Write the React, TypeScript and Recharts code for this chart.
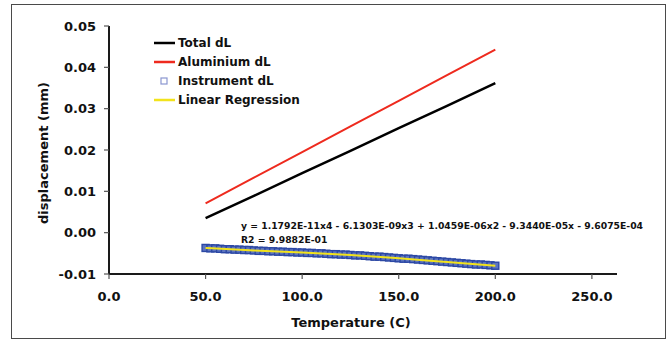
import React from 'react';
import { ComposedChart, Line, XAxis, YAxis } from 'recharts';

const FONT = '"DejaVu Sans", Verdana, sans-serif';

const xTicks = [0, 50, 100, 150, 200, 250];
const yTicks = [-0.01, 0, 0.01, 0.02, 0.03, 0.04, 0.05];

const lineTemps = [50, 75, 100, 125, 150, 175, 200];
const totalDL = [0.0035, 0.0089, 0.0144, 0.0198, 0.0253, 0.0307, 0.0362];
const aluminiumDL = [0.0071, 0.0133, 0.0195, 0.0257, 0.0319, 0.0381, 0.0443];
const regressionDL = [-0.0037, -0.0043, -0.0048, -0.0054, -0.0062, -0.0071, -0.008];

const instrumentTemps = [
  50, 52.5, 55, 57.5, 60, 62.5, 65, 67.5, 70, 72.5, 75, 77.5, 80, 82.5, 85, 87.5,
  90, 92.5, 95, 97.5, 100, 102.5, 105, 107.5, 110, 112.5, 115, 117.5, 120, 122.5,
  125, 127.5, 130, 132.5, 135, 137.5, 140, 142.5, 145, 147.5, 150, 152.5, 155,
  157.5, 160, 162.5, 165, 167.5, 170, 172.5, 175, 177.5, 180, 182.5, 185, 187.5,
  190, 192.5, 195, 197.5, 200,
];
const instrumentDL = [
  -0.0037, -0.0038, -0.0038, -0.0039, -0.004, -0.004, -0.0041, -0.0041, -0.0042,
  -0.0042, -0.0043, -0.0044, -0.0044, -0.0045, -0.0045, -0.0046, -0.0046, -0.0047,
  -0.0047, -0.0048, -0.0048, -0.0049, -0.0049, -0.005, -0.005, -0.0051, -0.0052,
  -0.0052, -0.0053, -0.0053, -0.0054, -0.0055, -0.0055, -0.0056, -0.0057, -0.0058,
  -0.0058, -0.0059, -0.006, -0.0061, -0.0062, -0.0063, -0.0063, -0.0064, -0.0065,
  -0.0066, -0.0067, -0.0068, -0.0069, -0.007, -0.0071, -0.0072, -0.0073, -0.0074,
  -0.0075, -0.0076, -0.0077, -0.0077, -0.0078, -0.0079, -0.008,
];

const equationText =
  'y = 1.1792E-11x4 - 6.1303E-09x3 + 1.0459E-06x2 - 9.3440E-05x - 9.6075E-04';
const r2Text = 'R2 = 9.9882E-01';

const toRows = (xs: number[], ys: number[]) => xs.map((t, i) => ({ t, v: ys[i] }));

const totalData = toRows(lineTemps, totalDL);
const aluminiumData = toRows(lineTemps, aluminiumDL);
const regressionData = toRows(lineTemps, regressionDL);
const instrumentData = toRows(instrumentTemps, instrumentDL);

const legendItems = [
  { name: 'Total dL', color: '#000000', kind: 'line' },
  { name: 'Aluminium dL', color: '#ee2a1e', kind: 'line' },
  { name: 'Instrument dL', color: '#8a96d0', kind: 'square' },
  { name: 'Linear Regression', color: '#f2e31c', kind: 'line' },
];

const SquareMarker = (props: any) => {
  const { cx, cy, index } = props;
  if (cx == null || cy == null) return null;
  return (
    <rect
      key={`sq-${index}`}
      x={cx - 3.5}
      y={cy - 3.5}
      width={7}
      height={7}
      fill="#5c74c0"
      stroke="#2c48a4"
      strokeWidth={1.4}
    />
  );
};

const tickStyle = { fontFamily: FONT, fontWeight: 'bold', fontSize: 13, fill: '#111' };
const CHART_MARGIN = { top: 26, right: 54, left: 0, bottom: 0 };
const chartPos: React.CSSProperties = { position: 'absolute', left: 0, top: 0 };

// axes shared by both layers; the overlay layer hides its ticks and lines
const axes = (visible: boolean) => [
  <XAxis
    key="x"
    type="number"
    dataKey="t"
    domain={[0, 263]}
    ticks={xTicks}
    tickFormatter={(v: number) => v.toFixed(1)}
    allowDataOverflow
    height={67}
    tick={visible ? tickStyle : false}
    tickSize={5}
    tickMargin={13}
    axisLine={visible ? { stroke: '#1a1a1a', strokeWidth: 2 } : false}
    tickLine={visible ? { stroke: '#555', strokeWidth: 1.2 } : false}
  />,
  <YAxis
    key="y"
    type="number"
    dataKey="v"
    domain={[-0.01, 0.05]}
    ticks={yTicks}
    tickFormatter={(v: number) => v.toFixed(2)}
    allowDataOverflow
    width={109}
    tick={visible ? tickStyle : false}
    tickSize={5}
    tickMargin={8}
    axisLine={visible ? { stroke: '#1a1a1a', strokeWidth: 2 } : false}
    tickLine={visible ? { stroke: '#555', strokeWidth: 1.2 } : false}
  />,
];

export default function App() {
  return (
    <div style={{ position: 'absolute', left: 0, top: 0, width: 671, height: 341, background: '#fff' }}>
      <div
        style={{
          position: 'absolute',
          left: 11,
          top: 4,
          width: 653,
          height: 333,
          border: '1.5px solid #4a4a4a',
        }}
      />
      <ComposedChart width={671} height={341} margin={CHART_MARGIN} style={chartPos}>
        {axes(true)}
        <Line
          data={totalData}
          dataKey="v"
          name="Total dL"
          stroke="#000000"
          strokeWidth={2.5}
          dot={false}
          isAnimationActive={false}
        />
        <Line
          data={aluminiumData}
          dataKey="v"
          name="Aluminium dL"
          stroke="#ee2a1e"
          strokeWidth={2}
          dot={false}
          isAnimationActive={false}
        />
        <Line
          data={instrumentData}
          dataKey="v"
          name="Instrument dL"
          stroke="none"
          strokeWidth={0}
          dot={SquareMarker}
          activeDot={false}
          isAnimationActive={false}
        />
      </ComposedChart>
      <ComposedChart width={671} height={341} margin={CHART_MARGIN} style={chartPos}>
        {axes(false)}
        <Line
          data={regressionData}
          dataKey="v"
          name="Linear Regression"
          type="monotone"
          stroke="#f2e31c"
          strokeWidth={2}
          dot={false}
          isAnimationActive={false}
        />
      </ComposedChart>
      <div
        style={{
          position: 'absolute',
          left: 154,
          top: 34,
          fontFamily: FONT,
          fontWeight: 'bold',
          fontSize: 12,
          color: '#111',
        }}
      >
        {legendItems.map((it) => (
          <div key={it.name} style={{ display: 'flex', alignItems: 'center', height: 18.8 }}>
            <svg width={23} height={10} style={{ marginRight: 1 }}>
              {it.kind === 'line' ? (
                <line x1={0} y1={5} x2={21} y2={5} stroke={it.color} strokeWidth={2.5} />
              ) : (
                <rect x={7} y={2} width={6} height={6} fill="#fff" stroke={it.color} strokeWidth={1.2} />
              )}
            </svg>
            <span>{it.name}</span>
          </div>
        ))}
      </div>
      <div
        style={{
          position: 'absolute',
          left: 241,
          top: 219,
          fontFamily: FONT,
          fontWeight: 'bold',
          fontSize: 9.25,
          lineHeight: '13.5px',
          color: '#111',
          whiteSpace: 'pre',
        }}
      >
        <div>{equationText}</div>
        <div>{r2Text}</div>
      </div>
      <div
        style={{
          position: 'absolute',
          left: 351,
          top: 322,
          transform: 'translate(-50%, -50%)',
          fontFamily: FONT,
          fontWeight: 'bold',
          fontSize: 13,
          color: '#111',
          whiteSpace: 'nowrap',
        }}
      >
        Temperature (C)
      </div>
      <div
        style={{
          position: 'absolute',
          left: 43,
          top: 153,
          transform: 'translate(-50%, -50%) rotate(-90deg)',
          fontFamily: FONT,
          fontWeight: 'bold',
          fontSize: 13,
          color: '#111',
          whiteSpace: 'nowrap',
        }}
      >
        displacement (mm)
      </div>
    </div>
  );
}
